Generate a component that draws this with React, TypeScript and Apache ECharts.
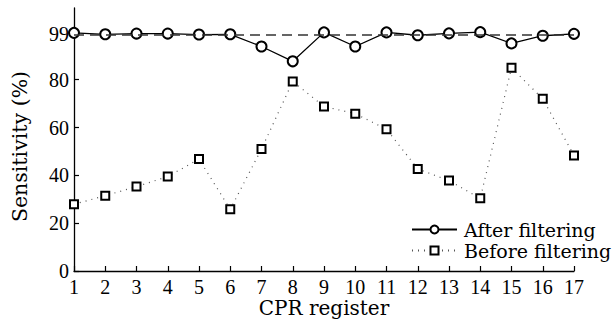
import React, { useEffect, useRef } from "react";
import * as echarts from "echarts";

const registers = [1, 2, 3, 4, 5, 6, 7, 8, 9, 10, 11, 12, 13, 14, 15, 16, 17];
const afterFiltering = [99.6, 99.0, 99.3, 99.3, 98.9, 99.0, 93.9, 87.7, 99.8, 93.9, 99.8, 98.6, 99.4, 99.9, 95.2, 98.4, 99.2];
const beforeFiltering = [27.9, 31.5, 35.3, 39.5, 46.8, 25.8, 51.0, 79.3, 68.8, 65.8, 59.3, 42.7, 37.8, 30.4, 85.0, 72.0, 48.3];
const yTicks = [0, 20, 40, 60, 80, 99];
const referenceLevel = 99;

const TICK_FONT = "Liberation Serif";
const TEXT_FONT = "DejaVu Serif";

export default function App() {
  const ref = useRef<HTMLDivElement>(null);
  useEffect(() => {
    if (!ref.current) return;
    const chart = echarts.init(ref.current, null, { renderer: "svg" });
    const axisCommon = {
      axisLine: { show: true, lineStyle: { color: "#000", width: 1.3 } },
      axisTick: { show: true, inside: true, length: 5, lineStyle: { color: "#000", width: 1.2 } },
      splitLine: { show: false },
    };
    chart.setOption({
      animation: false,
      backgroundColor: "#fff",
      grid: { left: 74, right: 39, top: 8, bottom: 51, containLabel: false, outerBoundsMode: "none" },
      xAxis: {
        type: "value",
        min: 1,
        max: 17,
        interval: 1,
        name: "CPR register",
        nameLocation: "middle",
        nameGap: 27,
        nameMoveOverlap: false,
        nameTextStyle: { fontFamily: TEXT_FONT, fontSize: 20, color: "#000" },
        ...axisCommon,
        axisLabel: { fontFamily: TICK_FONT, fontSize: 20, color: "#000", margin: 6 },
      },
      yAxis: {
        type: "value",
        min: 0,
        max: 110,
        name: "Sensitivity (%)",
        nameLocation: "middle",
        nameGap: 44,
        nameMoveOverlap: false,
        nameTextStyle: { fontFamily: TEXT_FONT, fontSize: 20.5, color: "#000", padding: [0, 14, 0, 0] },
        ...axisCommon,
        axisTick: { ...axisCommon.axisTick, customValues: yTicks },
        axisLabel: { fontFamily: TICK_FONT, fontSize: 20, color: "#000", margin: 5, customValues: yTicks },
      },
      legend: {
        left: 411,
        top: 220,
        padding: 0,
        orient: "vertical",
        align: "left",
        itemGap: 2,
        itemWidth: 45,
        itemHeight: 10,
        textStyle: { fontFamily: TEXT_FONT, fontSize: 19, color: "#000", padding: [0, 0, 0, 2] },
        data: ["After filtering", "Before filtering"],
      },
      series: [
        {
          name: "After filtering",
          type: "line",
          data: registers.map((r, i) => [r, afterFiltering[i]]),
          symbol: "emptyCircle",
          symbolSize: 10,
          lineStyle: { color: "#000", width: 1.3 },
          itemStyle: { color: "#000", borderWidth: 1.3 },
          z: 3,
          markLine: {
            silent: true,
            symbol: "none",
            label: { show: false },
            lineStyle: { color: "#333", type: [10, 6], width: 1.5 },
            data: [{ yAxis: referenceLevel }],
          },
        },
        {
          name: "Before filtering",
          type: "line",
          data: registers.map((r, i) => [r, beforeFiltering[i]]),
          symbol: "emptyRect",
          symbolSize: 8,
          lineStyle: { color: "#555", width: 1.2, type: [1, 5] },
          itemStyle: { color: "#000", borderWidth: 1.8 },
          z: 2,
        },
      ],
    });
    return () => chart.dispose();
  }, []);
  return <div ref={ref} style={{ position: "fixed", left: 0, top: 0, width: 613, height: 322 }} />;
}
